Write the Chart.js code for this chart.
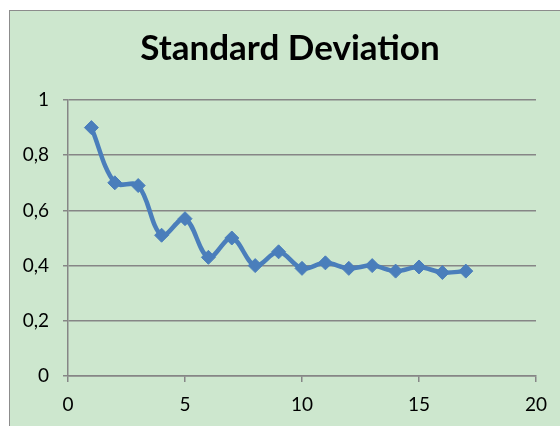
<!DOCTYPE html>
<html>
<head>
<meta charset="utf-8">
<script src="https://cdn.jsdelivr.net/npm/chart.js@4/dist/chart.umd.min.js"></script>
<style>
  html, body { margin: 0; padding: 0; background: #fff; overflow: hidden; width: 560px; height: 426px; }
  #frame {
    position: absolute; left: 9px; top: 10px; width: 600px; height: 460px;
    background: #cde7ce; border-left: 1px solid #8c8c8c; border-top: 1px solid #8c8c8c;
  }
  #sd_chart { position: absolute; left: 0; top: 0; }
</style>
</head>
<body>
<div id="frame"><canvas id="sd_chart" width="560" height="426"></canvas></div>
<script>
const titleText = 'Standard Deviation'
const runs = [1, 2, 3, 4, 5, 6, 7, 8, 9, 10, 11, 12, 13, 14, 15, 16, 17]
const deviation = [0.90, 0.70, 0.69, 0.51, 0.57, 0.43, 0.50, 0.40, 0.45, 0.39, 0.41, 0.39, 0.40, 0.38, 0.395, 0.375, 0.38]

const gridGrey = '#868686'
const lineBlue = '#4a7ebb'
const points = runs.map((r, i) => ({ x: r, y: deviation[i] }))

function comma(v) {
    return (Math.round(v * 10) / 10).toString().replace('.', ',')
}

new Chart(document.getElementById('sd_chart'), {
    type: 'line',
    data: {
        datasets: [{
            label: titleText,
            data: points,
            borderColor: lineBlue,
            backgroundColor: lineBlue,
            borderWidth: 4.5,
            tension: 0.35,
            pointStyle: 'rectRot',
            pointRadius: 7,
            pointBorderWidth: 1,
            pointBackgroundColor: lineBlue,
            pointBorderColor: lineBlue
        }]
    },
    options: {
        responsive: false,
        animation: false,
        layout: { padding: 0 },
        plugins: {
            legend: { display: false },
            tooltip: { enabled: false },
            title: {
                display: true,
                text: titleText,
                color: '#000',
                font: { family: 'Lato', size: 35, weight: 'bold' },
                padding: { top: 17, bottom: 30 }
            }
        },
        scales: {
            x: {
                type: 'linear',
                min: 0,
                max: 20,
                ticks: {
                    stepSize: 5,
                    color: '#000',
                    padding: 11,
                    maxRotation: 0,
                    font: { family: 'Lato', size: 19 }
                },
                grid: { drawOnChartArea: false, drawTicks: true, tickLength: 6, color: gridGrey, lineWidth: 1.5 },
                border: { display: true, color: gridGrey, width: 1.5 },
                afterFit: function (scale) { scale.height = 61 }
            },
            y: {
                min: 0,
                max: 1,
                ticks: {
                    stepSize: 0.2,
                    color: '#000',
                    padding: 14,
                    font: { family: 'Lato', size: 19 },
                    callback: function (v) { return comma(v) }
                },
                grid: { drawTicks: true, tickLength: 5, color: gridGrey, lineWidth: 1.5 },
                border: { display: true, color: gridGrey, width: 1.5 },
                afterFit: function (scale) { scale.width = 58 }
            },
            // empty right-hand axis, only there to leave the gap right of the plot
            // while the title stays centred on the whole frame
            spacer: {
                position: 'right',
                min: 0,
                max: 1,
                ticks: { display: false },
                grid: { display: false },
                border: { display: false },
                afterFit: function (scale) { scale.width = 34 }
            }
        }
    }
})
</script>
</body>
</html>
